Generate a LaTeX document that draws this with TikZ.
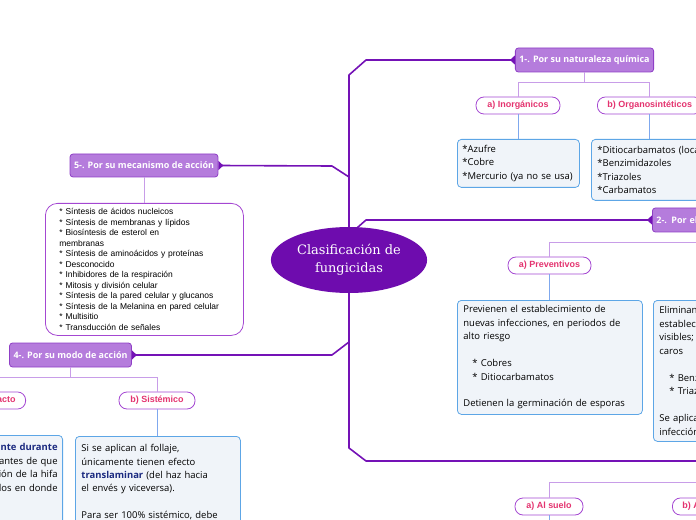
\documentclass[tikz,border=0pt]{standalone}
\usepackage{fontspec}
\setmainfont{Open Sans}
\newfontfamily\arialfont{Liberation Sans}
\newfontfamily\rootfont{DejaVu Serif}
\usetikzlibrary{arrows.meta,positioning,shapes.geometric}

\definecolor{trunkpurple}{HTML}{7412B6}
\definecolor{rootfill}{HTML}{6E0CAE}
\definecolor{headfill}{HTML}{B57CDC}
\definecolor{headdraw}{HTML}{8F3FC6}
\definecolor{labeltext}{HTML}{E4336F}
\definecolor{labeldraw}{HTML}{A447D2}
\definecolor{sublink}{HTML}{C89DE8}
\definecolor{boxfill}{HTML}{F0F4F9}
\definecolor{boxdraw}{HTML}{5DA6E6}
\definecolor{boxlinkcol}{HTML}{7FA8EE}
\definecolor{darkblue}{HTML}{1B2A80}

\tikzset{
  trunk/.style={draw=trunkpurple, line width=1.6bp, line join=round,
    -{Triangle[reversed,length=5bp,width=9bp]}},
  header/.style={fill=headfill, draw=headdraw, line width=0.8bp, rounded corners=3bp,
    text=white, font=\bfseries\fontsize{9}{10}\selectfont, minimum height=24bp, inner xsep=4bp},
  pill/.style={fill=white, draw=labeldraw, line width=0.8bp, rounded corners=8bp,
    text=labeltext, font=\arialfont\bfseries\fontsize{9}{10}\selectfont,
    minimum height=17bp, inner xsep=10bp, inner ysep=2bp},
  contentbox/.style={fill=boxfill, draw=boxdraw, line width=0.8bp, rounded corners=4bp,
    align=left, inner xsep=6bp, inner ysep=4bp, anchor=north west,
    font=\fontsize{9.5}{13.5}\selectfont},
  listbox/.style={fill=white, draw=labeldraw, line width=0.8bp, rounded corners=12bp,
    align=left, inner xsep=14bp, inner ysep=3bp, anchor=north west,
    font=\arialfont\fontsize{8.5}{10.5}\selectfont},
  sublink/.style={draw=sublink, line width=0.8bp},
  boxlink/.style={draw=boxlinkcol, line width=0.8bp},
}

\begin{document}
\begin{tikzpicture}[x=1bp, y=-1bp]
  \useasboundingbox (0,0) rectangle (696,520);
  \clip (0,0) rectangle (696,520);

  % main topics
  \node[header, minimum width=137bp] (h1) at (584.5,60) {1-. Por su naturaleza química};
  \node[header, anchor=west, text width=92bp, align=left] (h2) at (652,220) {2-. Por el};
  \node[header, minimum width=146bp, minimum height=23bp] (h5) at (144,165.5) {5-. Por su mecanismo de acción};
  \node[header, minimum width=121bp] (h4) at (70.5,355) {4-. Por su modo de acción};
  \coordinate (h3) at (710,461);
  \coordinate (hub) at (349,260);

  % trunk
  \draw[trunk] (hub) -- (349,75) -- (366,60) -- (h1.west);
  \draw[trunk] (hub) -- (349,235) -- (366,220) -- (h2.west);
  \draw[trunk] (hub) -- (349,177) -- (332,166) -- (h5.east);
  \draw[trunk] (hub) -- (349,342) -- (332,355) -- (h4.east);
  \draw[draw=trunkpurple, line width=1.6bp, line join=round] (hub) -- (349,448) -- (366,461) -- (h3);

  \node[ellipse, fill=rootfill, text=white, minimum width=156bp, minimum height=66bp,
    align=center, font=\rootfont\fontsize{13}{18}\selectfont] (root) at (hub) {Clasificación de\\fungicidas};

  % 1-. naturaleza
  \node[pill, minimum width=84bp] (inorg) at (518,105.5) {a) Inorgánicos};
  \node[pill, anchor=west] (organo) at (597,105.5) {b) Organosintéticos};
  \draw[sublink] (h1.south) -- ++(0,10) -| (inorg.north);
  \draw[sublink] (h1.south) -- ++(0,10) -| (organo.north);
  \node[contentbox, inner xsep=5bp, text width=112bp, minimum height=48bp] (inorgbox) at (457,139)
    {*Azufre\\{}*Cobre\\{}*Mercurio (ya no se usa)};
  \node[contentbox, text width=150bp, minimum height=61bp] (organobox) at (591,139)
    {*Ditiocarbamatos (locales)\\{}*Benzimidazoles\\{}*Triazoles\\{}*Carbamatos};
  \draw[boxlink] (inorg.south) -- (inorg.south |- inorgbox.north);
  \draw[boxlink] (organo.south) -- (organo.south |- organobox.north);

  % 2-. preventivos
  \node[pill, minimum width=83bp] (prev) at (549.5,265.5) {a) Preventivos};
  \draw[sublink] (h2.south) -- ++(0,10) -| (prev.north);
  \node[contentbox, text width=173bp, minimum height=114bp] (prevbox) at (457,300)
    {Previenen el establecimiento de\\nuevas infecciones, en periodos de\\alto riesgo\\[13.5bp]
     \hspace*{9bp}* Cobres\\\hspace*{9bp}* Ditiocarbamatos\\[13.5bp]
     Detienen la germinación de esporas};
  \draw[boxlink] (prev.south) -- (prev.south |- prevbox.north);
  \node[contentbox, text width=150bp, minimum height=141bp] (curabox) at (653,300)
    {Eliminan\\establecidas\\visibles;\\caros\\[13.5bp]
     \hspace*{10bp}* Benzimidazoles\\\hspace*{10bp}* Triazoles\\[13.5bp]
     Se aplican\\infección};

  % 3-. lugar
  \node[pill, minimum width=68bp] (suelo) at (549,506.5) {a) Al suelo};
  \node[pill, anchor=west] (follaje) at (672,506.5) {b) Al follaje};
  \draw[sublink] (suelo.north) -- ++(0,-15) -| (follaje.north);
  \draw[boxlink] (suelo.south) -- ++(0,10);

  % 5-. mecanismo
  \node[listbox, text width=170bp, minimum height=132bp] (mecan) at (45,203)
    {* Síntesis de ácidos nucleicos\\{}
     * Síntesis de membranas y lípidos\\{}
     * Biosíntesis de esterol en\\membranas\\{}
     * Síntesis de aminoácidos y proteínas\\{}
     * Desconocido\\{}
     * Inhibidores de la respiración\\{}
     * Mitosis y división celular\\{}
     * Síntesis de la pared celular y glucanos\\{}
     * Síntesis de la Melanina en pared celular\\{}
     * Multisitio\\{}
     * Transducción de señales};
  \draw[sublink] (h5.south) -- (h5.south |- mecan.north);

  % 4-. modo de accion
  \node[pill, anchor=east] (contacto) at (26,400.5) {a) Contacto};
  \node[pill, minimum width=76bp] (sist) at (157,400.5) {b) Sistémico};
  \draw[sublink] (h4.south) -- ++(0,10) -| (sist.north);
  \draw[sublink] (h4.south) -- ++(0,10) -| (contacto.north);
  \node[contentbox, anchor=north east, align=right, inner xsep=5bp, inner ysep=8bp,
    text width=150bp, text depth=120bp] (contbox) at (63,435)
    {Actúan \textcolor{darkblue}{\textbf{únicamente durante}}\\
     las etapas iniciales antes de que\hspace*{10bp}\\
     la penetración de la hifa\hspace*{12bp}\\
     a los tejidos en donde\hspace*{9bp}};
  \node[contentbox, inner ysep=8bp, text width=153bp, text depth=120bp] (sistbox) at (75,436)
    {Si se aplican al follaje,\\únicamente tienen efecto\\
     \textcolor{darkblue}{\textbf{translaminar}} (del haz hacia\\el envés y viceversa).\\[13.5bp]
     Para ser 100\% sistémico, debe};
  \draw[boxlink] (sist.south) -- (sist.south |- sistbox.north);
\end{tikzpicture}
\end{document}
